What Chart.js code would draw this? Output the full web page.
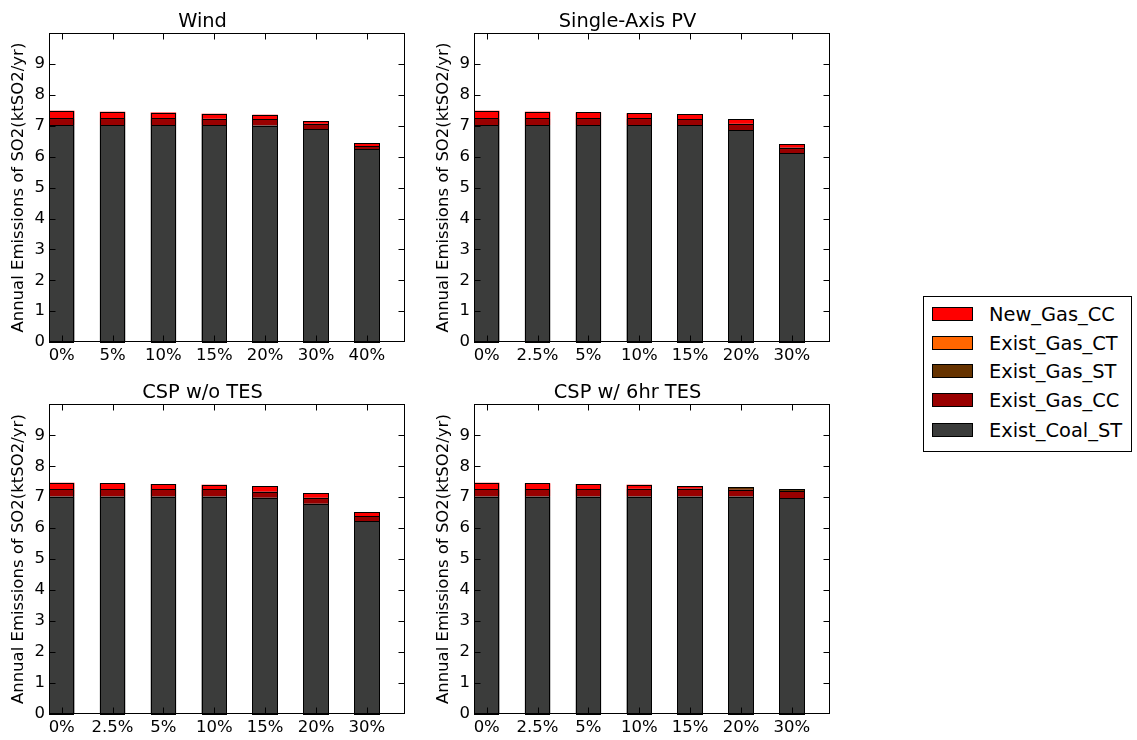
<!DOCTYPE html>
<html>
<head>
<meta charset="utf-8">
<title>Annual Emissions of SO2</title>
<script src="https://cdn.jsdelivr.net/npm/chart.js@4.4.1/dist/chart.umd.min.js"></script>
<style>
  body {
    margin: 0;
    background: #fff;
    width: 1137px;
    height: 740px;
    position: relative;
    overflow: hidden;
    font-family: 'DejaVu Sans', sans-serif;
  }
  canvas { position: absolute; }
  #legend {
    position: absolute;
    left: 923px;
    top: 296px;
    width: 209px;
    height: 156px;
    border: 1px solid #000;
    box-sizing: border-box;
  }
  .legend-row {
    position: absolute;
    left: 8px;
    height: 24px;
    display: flex;
    align-items: center;
    font-size: 19.4px;
    color: #000;
  }
  .swatch {
    width: 41px;
    height: 14px;
    border: 1px solid #000;
    box-sizing: border-box;
    margin-right: 16px;
  }
</style>
</head>
<body>
<canvas id="wind" width="410" height="370" style="left:0px;top:0px"></canvas>
<canvas id="pv" width="410" height="370" style="left:425px;top:0px"></canvas>
<canvas id="csp" width="410" height="371" style="left:0px;top:371px"></canvas>
<canvas id="tes" width="410" height="371" style="left:425px;top:371px"></canvas>
<div id="legend"></div>
<script>
// stacking order, bottom to top
const seriesNames = ['Exist_Coal_ST', 'Exist_Gas_CC', 'Exist_Gas_ST', 'Exist_Gas_CT', 'New_Gas_CC'];
const seriesColors = ['#3b3c3b', '#990000', '#663300', '#ff6600', '#ff0000'];

const yTicks = [0, 1, 2, 3, 4, 5, 6, 7, 8, 9];
const yTitle = 'Annual Emissions of SO2(ktSO2/yr)';

const windLabels = ['0%', '5%', '10%', '15%', '20%', '30%', '40%'];
const pvLabels = ['0%', '2.5%', '5%', '10%', '15%', '20%', '30%'];
const cspLabels = ['0%', '2.5%', '5%', '10%', '15%', '20%', '30%'];
const tesLabels = ['0%', '2.5%', '5%', '10%', '15%', '20%', '30%'];

const windCoal = [7.02, 7.02, 7.02, 7.02, 7.01, 6.89, 6.24];
const windGasCC = [0.23, 0.23, 0.23, 0.21, 0.20, 0.18, 0.11];
const windGasST = [0, 0, 0, 0, 0, 0, 0];
const windGasCT = [0, 0, 0, 0, 0, 0, 0];
const windNewCC = [0.24, 0.21, 0.18, 0.16, 0.15, 0.09, 0.10];

const pvCoal = [7.02, 7.02, 7.02, 7.02, 7.02, 6.87, 6.12];
const pvGasCC = [0.22, 0.22, 0.22, 0.22, 0.20, 0.20, 0.18];
const pvGasST = [0, 0, 0, 0, 0, 0, 0];
const pvGasCT = [0, 0, 0, 0, 0, 0, 0];
const pvNewCC = [0.25, 0.22, 0.20, 0.17, 0.15, 0.14, 0.11];

const cspCoal = [7.02, 7.02, 7.02, 7.02, 6.98, 6.79, 6.22];
const cspGasCC = [0.23, 0.23, 0.23, 0.23, 0.20, 0.19, 0.16];
const cspGasST = [0, 0, 0, 0, 0, 0, 0];
const cspGasCT = [0, 0, 0, 0, 0, 0, 0];
const cspNewCC = [0.22, 0.20, 0.18, 0.15, 0.17, 0.15, 0.14];

const tesCoal = [7.02, 7.02, 7.02, 7.02, 7.02, 7.02, 6.97];
const tesGasCC = [0.24, 0.24, 0.24, 0.25, 0.26, 0.22, 0.23];
const tesGasST = [0, 0, 0, 0, 0, 0.08, 0.06];
const tesGasCT = [0, 0, 0, 0, 0, 0, 0];
const tesNewCC = [0.21, 0.19, 0.17, 0.13, 0.08, 0, 0];

const panels = [
  { id: 'wind', title: 'Wind', labels: windLabels, series: [windCoal, windGasCC, windGasST, windGasCT, windNewCC] },
  { id: 'pv', title: 'Single-Axis PV', labels: pvLabels, series: [pvCoal, pvGasCC, pvGasST, pvGasCT, pvNewCC] },
  { id: 'csp', title: 'CSP w/o TES', labels: cspLabels, series: [cspCoal, cspGasCC, cspGasST, cspGasCT, cspNewCC] },
  { id: 'tes', title: 'CSP w/ 6hr TES', labels: tesLabels, series: [tesCoal, tesGasCC, tesGasST, tesGasCT, tesNewCC] },
];

const fontFamily = "'DejaVu Sans', sans-serif";
const tickFont = { family: fontFamily, size: 16.5 };

// crisp black edges round every bar (zero-height ones become a line, as in matplotlib)
const barOutlines = {
  id: 'barOutlines',
  afterDatasetsDraw(chart) {
    const { ctx } = chart;
    ctx.save();
    ctx.strokeStyle = '#000';
    ctx.lineWidth = 1;
    chart.data.datasets.forEach((_, di) => {
      chart.getDatasetMeta(di).data.forEach((bar) => {
        const { x, y, base, width } = bar.getProps(['x', 'y', 'base', 'width'], true);
        const left = Math.round(x - width / 2) + 0.5;
        const right = Math.round(x + width / 2) - 0.5;
        const top = Math.round(Math.min(y, base)) + 0.5;
        const bottom = Math.round(Math.max(y, base)) + 0.5;
        ctx.strokeRect(left, top, right - left, bottom - top);
      });
    });
    ctx.restore();
  },
};

// matplotlib-like box with inward ticks on all four sides
const frameAndTicks = {
  id: 'frameAndTicks',
  afterDatasetsDraw(chart) {
    const { ctx, chartArea: a, scales: { x, y } } = chart;
    const left = Math.round(a.left) + 0.5;
    const right = Math.round(a.right) - 0.5;
    const top = Math.round(a.top) + 0.5;
    const bottom = Math.round(a.bottom) - 0.5;
    const clamp = (v, lo, hi) => Math.min(Math.max(v, lo), hi);
    ctx.save();
    ctx.strokeStyle = '#000';
    ctx.lineWidth = 1;
    ctx.beginPath();
    x.ticks.forEach((t) => {
      const px = clamp(Math.round(x.getPixelForValue(t.value)) + 0.5, left, right);
      ctx.moveTo(px, bottom);
      ctx.lineTo(px, bottom - 6);
      ctx.moveTo(px, top);
      ctx.lineTo(px, top + 6);
    });
    y.ticks.forEach((t) => {
      const py = clamp(Math.round(y.getPixelForValue(t.value)) + 0.5, top, bottom);
      ctx.moveTo(left, py);
      ctx.lineTo(left + 6, py);
      ctx.moveTo(right, py);
      ctx.lineTo(right - 6, py);
    });
    ctx.stroke();
    ctx.strokeRect(left, top, right - left, bottom - top);
    ctx.restore();
  },
};

function buildDatasets(series) {
  return series.map((values, s) => ({
    label: seriesNames[s],
    data: values.map((v, i) => ({ x: i, y: v })),
    backgroundColor: seriesColors[s],
    borderWidth: 0,
    barPercentage: 0.5,
    categoryPercentage: 1,
  }));
}

function createPanel(panel) {
  const labels = panel.labels;
  return new Chart(document.getElementById(panel.id), {
    type: 'bar',
    data: { datasets: buildDatasets(panel.series) },
    plugins: [barOutlines, frameAndTicks],
    options: {
      responsive: false,
      animation: false,
      layout: { padding: { left: 0, right: 5, top: 0, bottom: 0 } },
      plugins: {
        legend: { display: false },
        tooltip: { enabled: false },
        title: {
          display: true,
          text: panel.title,
          color: '#000',
          font: { family: fontFamily, size: 19.4, weight: 'normal' },
          padding: { top: 10, bottom: 0 },
        },
      },
      scales: {
        x: {
          type: 'linear',
          min: -0.25,
          max: 6.75,
          stacked: true,
          offset: false,
          grid: { display: false, drawTicks: false },
          border: { display: false },
          afterBuildTicks: (scale) => {
            scale.ticks = labels.map((_, i) => ({ value: i }));
          },
          afterFit: (scale) => {
            scale.height = 28;
          },
          ticks: {
            padding: 4,
            autoSkip: false,
            maxRotation: 0,
            color: '#000',
            font: tickFont,
            callback: (value) => labels[value],
          },
        },
        y: {
          min: 0,
          max: 10,
          stacked: true,
          grid: { display: false, drawTicks: false },
          border: { display: false },
          afterBuildTicks: (scale) => {
            scale.ticks = yTicks.map((v) => ({ value: v }));
          },
          afterFit: (scale) => {
            scale.width = 49;
          },
          ticks: { padding: 4, color: '#000', font: tickFont },
          title: {
            display: true,
            text: yTitle,
            color: '#000',
            font: tickFont,
            padding: { top: 9, bottom: 0 },
          },
        },
      },
    },
  });
}

function renderLegend() {
  const legend = document.getElementById('legend');
  const rowTops = [5, 34, 62, 91, 121];
  // legend lists the top of the stack first
  const order = seriesNames.map((_, i) => i).reverse();
  order.forEach((s, row) => {
    const item = document.createElement('div');
    item.className = 'legend-row';
    item.style.top = rowTops[row] + 'px';
    item.innerHTML = `<span class="swatch" style="background:${seriesColors[s]}"></span><span>${seriesNames[s]}</span>`;
    legend.appendChild(item);
  });
}

panels.forEach(createPanel);
renderLegend();
</script>
</body>
</html>
